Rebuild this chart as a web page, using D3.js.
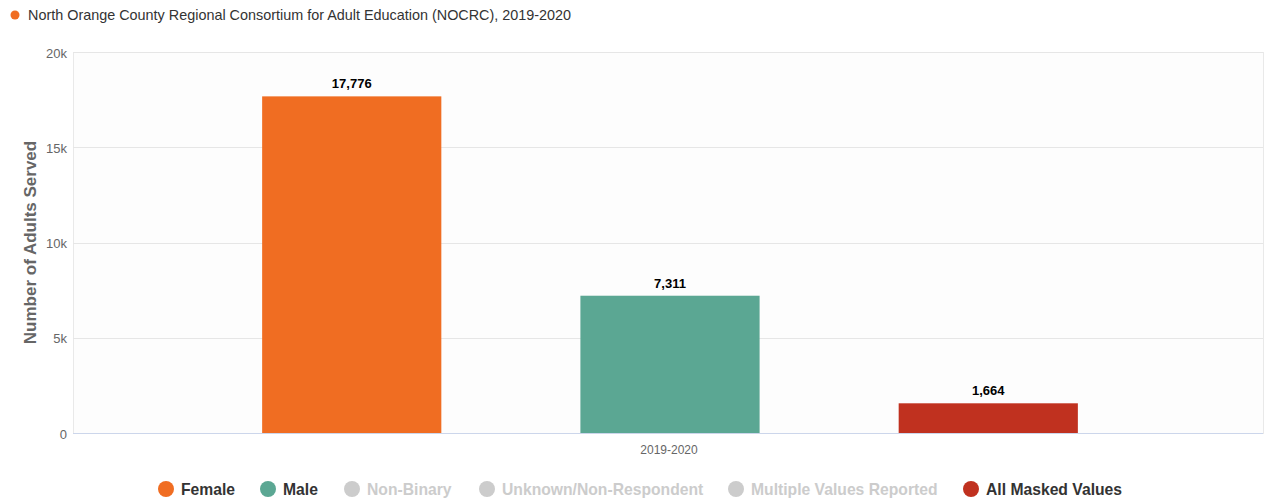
<!DOCTYPE html>
<html><head><meta charset="utf-8">
<script src="https://cdn.jsdelivr.net/npm/d3@7"></script>
<style>
html,body{margin:0;padding:0;background:#fff;}
svg{display:block;font-family:"Liberation Sans",Arial,Helvetica,sans-serif;}
</style></head>
<body>
<svg id="chart" width="1264" height="499"></svg>
<script>
const title = "North Orange County Regional Consortium for Adult Education (NOCRC), 2019-2020";
const categories = ["2019-2020"];
const seriesNames = ["Female","Male","Non-Binary","Unknown/Non-Respondent","Multiple Values Reported","All Masked Values"];
const seriesValues = [17776, 7311, null, null, null, 1664];
const seriesVisible = [true, true, false, false, false, true];
const seriesColors = ["#f06d22","#5ba793","#cccccc","#cccccc","#cccccc","#c0311f"];
const yTicks = [0, 5000, 10000, 15000, 20000];
const yTickLabels = ["0","5k","10k","15k","20k"];
const yTitle = "Number of Adults Served";

const svg = d3.select("#chart");
const m = {left:73, right:1263, top:52, bottom:433};

// header
svg.append("circle").attr("cx",15).attr("cy",15).attr("r",4.5).attr("fill",seriesColors[0]);
svg.append("text").attr("x",28).attr("y",20).attr("font-size",14.4).attr("fill","#333").text(title);

const y = d3.scaleLinear().domain([0,20000]).range([m.bottom,m.top]);
const yBar = y.copy().range([m.bottom+2, m.top+2]);
const x0 = d3.scaleBand().domain(categories).range([m.left,m.right]);
const visible = seriesNames.filter((s,i)=>seriesVisible[i]);
const x1 = d3.scaleBand().domain(visible).range([2,x0.bandwidth()+2]).paddingInner(0.437).paddingOuter(0.588);

// plot background & border
svg.append("rect").attr("x",m.left).attr("y",m.top).attr("width",m.right-m.left).attr("height",m.bottom-m.top)
  .attr("fill","#fdfdfd").attr("stroke","#e9e9e9").attr("stroke-width",1).attr("shape-rendering","crispEdges");

// grid
svg.append("g").selectAll("line").data(yTicks).join("line")
  .attr("x1",m.left).attr("x2",m.right).attr("y1",d=>Math.round(y(d))+0.5).attr("y2",d=>Math.round(y(d))+0.5)
  .attr("stroke","#e6e6e6").attr("stroke-width",1);

// y axis
const yAxis = d3.axisLeft(y).tickValues(yTicks).tickFormat((d,i)=>yTickLabels[i]).tickSize(0).tickPadding(6);
const gy = svg.append("g").attr("transform",`translate(${m.left},0)`).call(yAxis);
gy.select(".domain").remove();
gy.selectAll("text").attr("font-size",13).attr("fill","#666").attr("font-family","Liberation Sans, Arial, sans-serif").attr("dy","0.4em");

svg.append("text").attr("transform",`translate(36,${(m.top+m.bottom)/2}) rotate(-90)`)
  .attr("text-anchor","middle").attr("font-size",17).attr("font-weight","bold").attr("fill","#666").text(yTitle);

// x axis
const xAxis = d3.axisBottom(x0).tickSize(0).tickPadding(12);
const gx = svg.append("g").attr("transform",`translate(1,${m.bottom})`).call(xAxis);
gx.select(".domain").remove();
gx.selectAll("text").attr("font-size",12).attr("fill","#666").attr("font-family","Liberation Sans, Arial, sans-serif").attr("dy","0.71em");
svg.append("line").attr("x1",m.left).attr("x2",m.right).attr("y1",m.bottom+0.5).attr("y2",m.bottom+0.5).attr("stroke","#ccd6eb");

// bars
const data = [];
categories.forEach((c,ci)=>{
  seriesNames.forEach((s,si)=>{
    if(seriesVisible[si] && seriesValues[si]!=null) data.push({c, s, v:seriesValues[si], color:seriesColors[si]});
  });
});
const bars = svg.append("g");
bars.selectAll("rect").data(data).join("rect")
  .attr("x",d=>x0(d.c)+x1(d.s)).attr("width",x1.bandwidth())
  .attr("y",d=>yBar(d.v)).attr("height",d=>m.bottom-yBar(d.v)).attr("fill",d=>d.color);
bars.selectAll("text").data(data).join("text")
  .attr("x",d=>x0(d.c)+x1(d.s)+x1.bandwidth()/2).attr("y",d=>yBar(d.v)-8)
  .attr("text-anchor","middle").attr("font-size",13).attr("font-weight","bold").attr("fill","#000")
  .text(d=>d3.format(",")(d.v));

// legend
const legendX = [166, 268, 352, 487, 736, 971];
const lg = svg.append("g");
seriesNames.forEach((s,i)=>{
  const g = lg.append("g").attr("transform",`translate(${legendX[i]},489)`);
  g.append("circle").attr("r",8).attr("fill",seriesVisible[i]?seriesColors[i]:"#cccccc");
  g.append("text").attr("x",15).attr("y",6).attr("font-size",15.7).attr("font-weight","bold")
    .attr("fill",seriesVisible[i]?"#333":"#cccccc").text(s);
});
</script>
</body></html>
